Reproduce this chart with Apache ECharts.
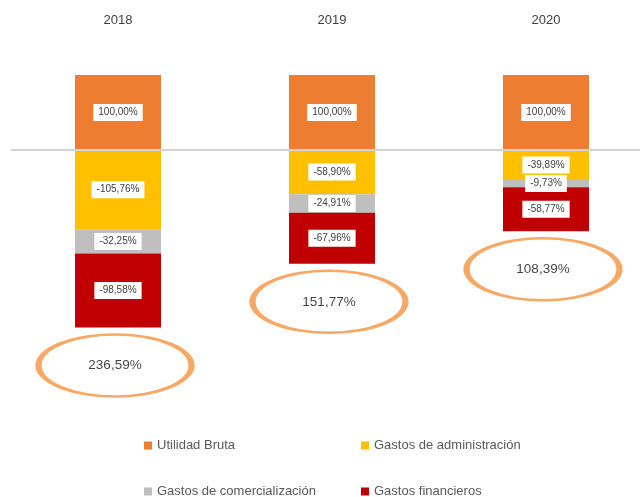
<!DOCTYPE html>
<html>
<head>
<meta charset="utf-8">
<script src="https://cdn.jsdelivr.net/npm/echarts/dist/echarts.min.js"></script>
<style>html,body{margin:0;padding:0;background:#fff;}#c{width:640px;height:497px;}</style>
</head>
<body>
<div id="c"></div>
<script>
const years = ['2018', '2019', '2020'];
const utilidadBruta = [100.00, 100.00, 100.00];
const gastosAdmin = [-105.76, -58.90, -39.89];
const gastosComerc = [-32.25, -24.91, -9.73];
const gastosFin = [-98.58, -67.96, -58.77];
const totals = [236.59, 151.77, 108.39];

const fmt = v => v.toFixed(2).replace('.', ',') + '%';
const FONT = 'Liberation Sans';

const barLabel = {
  show: true,
  position: 'inside',
  formatter: p => fmt(p.value),
  fontFamily: FONT,
  fontSize: 10,
  color: '#404040',
  backgroundColor: '#ffffff',
  padding: [4, 5, 3, 5]
};

function barSeries(name, data, color) {
  return {
    name: name, type: 'bar', stack: 'total', data: data,
    barWidth: 86,
    itemStyle: { color: color },
    label: barLabel
  };
}

const series = [
  Object.assign(barSeries('Utilidad Bruta', utilidadBruta, '#ED7D31'), {
    markLine: {
      silent: true, symbol: ['none', 'none'],
      label: { show: false },
      lineStyle: { color: '#d4d4d4', width: 2, type: 'solid' },
      data: [{ yAxis: 0 }]
    }
  }),
  barSeries('Gastos de administración', gastosAdmin, '#FFC000'),
  barSeries('Gastos de comercialización', gastosComerc, '#BFBFBF'),
  barSeries('Gastos financieros', gastosFin, '#C00000'),
  {
    name: 'Total', type: 'scatter',
    data: totals.map(t => -t),
    symbol: 'path://M0,50A100,50 0 1,1 200,50A100,50 0 1,1 0,50Z',
    symbolSize: [153, 62],
    symbolOffset: [-3, 38],
    itemStyle: { color: 'rgba(255,255,255,0)', borderColor: '#F5923E', borderWidth: 4 },
    label: {
      show: true, position: 'inside',
      formatter: p => fmt(totals[p.dataIndex]),
      fontFamily: FONT, fontSize: 13.5, color: '#111111'
    },
    z: 5
  }
];

function legend(name, left, top) {
  return {
    data: [name], left: left, top: top, padding: 0,
    icon: 'rect', itemWidth: 8, itemHeight: 8,
    textStyle: { fontFamily: FONT, fontSize: 13, color: '#595959' },
    selectedMode: false
  };
}

const chart = echarts.init(document.getElementById('c'), null, { renderer: 'canvas' });
chart.setOption({
  animation: false,
  backgroundColor: '#ffffff',
  grid: { left: 11, top: 45, width: 642, height: 315, containLabel: false, outerBoundsMode: 'none' },
  xAxis: {
    type: 'category', data: years, position: 'top',
    axisLine: { show: false }, axisTick: { show: false },
    axisLabel: { margin: 18, fontFamily: FONT, fontSize: 13, color: '#404040' }
  },
  yAxis: {
    type: 'value', min: -280, max: 140, show: false,
    splitLine: { show: false }
  },
  legend: [
    legend('Utilidad Bruta', 144, 439),
    legend('Gastos de administración', 361, 439),
    legend('Gastos de comercialización', 144, 485),
    legend('Gastos financieros', 361, 485)
  ],
  series: series
});
</script>
</body>
</html>
